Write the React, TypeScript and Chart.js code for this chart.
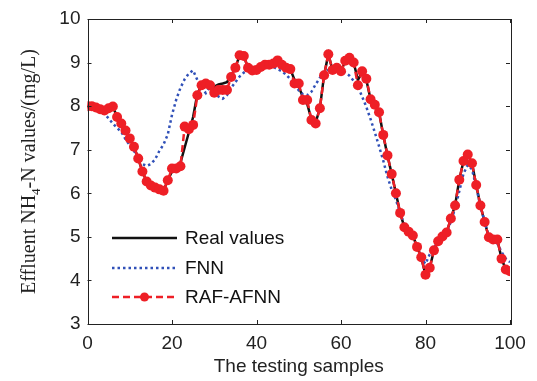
import React, { useEffect, useRef } from 'react';
import { Chart, registerables } from 'chart.js';
Chart.register(...registerables);

const samples = Array.from({ length: 101 }, (_, i) => i);

const realValues = [
  8.00, 8.00, 7.97, 7.93, 7.90, 7.95, 7.99, 7.75, 7.60, 7.44,
  7.26, 7.07, 6.80, 6.50, 6.27, 6.18, 6.13, 6.09, 6.06, 6.30,
  6.50, 6.60, 6.70, 7.05, 7.40, 7.75, 8.28, 8.48, 8.52, 8.48,
  8.45, 8.50, 8.52, 8.55, 8.70, 8.88, 9.17, 9.15, 8.88, 8.82,
  8.83, 8.90, 8.95, 8.95, 8.98, 9.05, 8.95, 8.88, 8.85, 8.60,
  8.45, 8.20, 8.05, 7.70, 7.62, 7.95, 8.71, 9.19, 8.83, 8.88,
  8.80, 9.04, 9.11, 9.00, 8.60, 8.78, 8.60, 8.16, 8.03, 7.86,
  7.34, 6.87, 6.44, 6.00, 5.55, 5.22, 5.12, 5.03, 4.77, 4.53,
  4.13, 4.29, 4.69, 4.90, 5.01, 5.10, 5.42, 5.72, 6.31, 6.74,
  6.89, 6.69, 6.19, 5.72, 5.34, 4.99, 4.94, 4.94, 4.50, 4.25,
  4.21,
];

const fnnValues = [
  8.00, 7.97, 7.92, 7.88, 7.82, 7.72, 7.60, 7.50, 7.41, 7.24,
  7.10, 6.97, 6.83, 6.67, 6.63, 6.67, 6.78, 6.97, 7.12, 7.35,
  7.80, 8.15, 8.42, 8.62, 8.75, 8.82, 8.60, 8.42, 8.30, 8.45,
  8.40, 8.22, 8.17, 8.25, 8.42, 8.55, 8.68, 8.77, 8.83, 8.87,
  8.88, 8.90, 8.92, 8.93, 8.90, 8.85, 8.80, 8.72, 8.62, 8.50,
  8.36, 8.27, 8.25, 8.33, 8.50, 8.65, 8.78, 8.83, 8.83, 8.82,
  8.79, 8.77, 8.70, 8.58, 8.45, 8.22, 7.98, 7.70, 7.40, 7.08,
  6.75, 6.38, 6.08, 5.85, 5.55, 5.28, 5.10, 4.95, 4.80, 4.50,
  4.38, 4.60, 4.75, 4.90, 5.00, 5.10, 5.35, 5.65, 6.05, 6.45,
  6.65, 6.55, 6.15, 5.70, 5.35, 5.00, 4.92, 4.85, 4.65, 4.50,
  4.42,
];

const rafValues = [
  8.00, 8.00, 7.97, 7.93, 7.90, 7.95, 7.99, 7.75, 7.60, 7.44,
  7.26, 7.07, 6.80, 6.50, 6.27, 6.18, 6.13, 6.09, 6.06, 6.30,
  6.57, 6.57, 6.62, 7.53, 7.47, 7.57, 8.25, 8.48, 8.52, 8.48,
  8.31, 8.37, 8.37, 8.37, 8.67, 8.88, 9.17, 9.15, 8.88, 8.82,
  8.83, 8.90, 8.95, 8.95, 8.98, 9.05, 8.95, 8.88, 8.85, 8.52,
  8.52, 8.14, 8.14, 7.68, 7.60, 7.95, 8.71, 9.19, 8.83, 8.88,
  8.80, 9.04, 9.11, 9.00, 8.48, 8.80, 8.63, 8.16, 8.03, 7.86,
  7.34, 6.87, 6.44, 6.00, 5.55, 5.22, 5.12, 5.03, 4.77, 4.53,
  4.13, 4.29, 4.69, 4.90, 5.01, 5.10, 5.42, 5.72, 6.31, 6.74,
  6.89, 6.69, 6.19, 5.72, 5.34, 4.99, 4.94, 4.94, 4.50, 4.25,
  4.21,
];

const seriesLabels = ['Real values', 'FNN', 'RAF-AFNN'];
const xTicks = [0, 20, 40, 60, 80, 100];
const yTicks = [3, 4, 5, 6, 7, 8, 9, 10];

const SANS = '"Liberation Sans", Arial, sans-serif';
const SERIF = '"Liberation Serif", "Times New Roman", serif';

const BLACK = '#111111';
const BLUE = '#3050b8';
const RED = '#ee1f26';

const framePlugin = {
  id: 'framePlugin',
  afterDraw(chart: any) {
    const { ctx, chartArea: a, scales } = chart;
    ctx.save();
    ctx.strokeStyle = '#222';
    ctx.lineWidth = 1;
    ctx.setLineDash([]);
    ctx.strokeRect(Math.round(a.left) + 0.5, Math.round(a.top) + 0.5, Math.round(a.right - a.left), Math.round(a.bottom - a.top));
    const tl = 4;
    ctx.beginPath();
    xTicks.forEach((v) => {
      const px = Math.round(scales.x.getPixelForValue(v)) + 0.5;
      ctx.moveTo(px, a.bottom);
      ctx.lineTo(px, a.bottom - tl);
      ctx.moveTo(px, a.top);
      ctx.lineTo(px, a.top + tl);
    });
    yTicks.forEach((v) => {
      const py = Math.round(scales.y.getPixelForValue(v)) + 0.5;
      ctx.moveTo(a.left, py);
      ctx.lineTo(a.left + tl, py);
      ctx.moveTo(a.right, py);
      ctx.lineTo(a.right - tl, py);
    });
    ctx.stroke();
    ctx.restore();
  },
};

const yTitlePlugin = {
  id: 'yTitlePlugin',
  afterDraw(chart: any) {
    const { ctx } = chart;
    const a = chart.chartArea;
    ctx.save();
    const main = '20px ' + SERIF;
    const sub = '13px ' + SERIF;
    const p1 = 'Effluent NH';
    const p2 = '4';
    const p3 = '-N values/(mg/L)';
    ctx.font = main;
    const w1 = ctx.measureText(p1).width;
    const w3 = ctx.measureText(p3).width;
    ctx.font = sub;
    const w2 = ctx.measureText(p2).width;
    const total = w1 + w2 + w3;
    ctx.translate(28, (a.top + a.bottom) / 2 + 0);
    ctx.rotate(-Math.PI / 2);
    ctx.fillStyle = '#222';
    ctx.textBaseline = 'alphabetic';
    ctx.textAlign = 'left';
    let x = -total / 2;
    const base = 7;
    ctx.font = main;
    ctx.fillText(p1, x, base);
    x += w1;
    ctx.font = sub;
    ctx.fillText(p2, x, base + 5);
    x += w2;
    ctx.font = main;
    ctx.fillText(p3, x, base);
    ctx.restore();
  },
};

const legendPlugin = {
  id: 'customLegend',
  afterDraw(chart: any) {
    const { ctx } = chart;
    const rows = [238, 268, 297];
    const x0 = 112;
    const x1 = 177;
    const tx = 185;
    const order = [0, 1, 2];
    ctx.save();
    order.forEach((di, i) => {
      const ds = chart.data.datasets[di];
      const y = rows[i];
      ctx.strokeStyle = ds.borderColor;
      ctx.lineWidth = ds.borderWidth;
      ctx.setLineDash(ds.borderDash || []);
      ctx.beginPath();
      ctx.moveTo(x0, y);
      ctx.lineTo(x1, y);
      ctx.stroke();
      ctx.setLineDash([]);
      if (ds.pointRadius && ds.pointRadius > 0) {
        ctx.fillStyle = ds.pointBackgroundColor;
        ctx.beginPath();
        ctx.arc((x0 + x1) / 2, y, ds.pointRadius - 0.5, 0, Math.PI * 2);
        ctx.fill();
      }
      ctx.fillStyle = '#111';
      ctx.font = '19px ' + SANS;
      ctx.textBaseline = 'middle';
      ctx.textAlign = 'left';
      ctx.fillText(ds.label, tx, y + 1);
    });
    ctx.restore();
  },
};

export default function App() {
  const canvasRef = useRef<HTMLCanvasElement | null>(null);

  useEffect(() => {
    document.body.style.margin = '0';
    const canvas = canvasRef.current;
    if (!canvas) return;
    const toPts = (vals: number[]) => vals.map((v, i) => ({ x: samples[i], y: v }));
    const chart = new Chart(canvas, {
      type: 'line',
      data: {
        datasets: [
          {
            label: seriesLabels[0],
            data: toPts(realValues),
            borderColor: BLACK,
            backgroundColor: BLACK,
            borderWidth: 2.5,
            pointRadius: 0,
            tension: 0,
            order: 2,
          },
          {
            label: seriesLabels[1],
            data: toPts(fnnValues),
            borderColor: BLUE,
            backgroundColor: BLUE,
            borderWidth: 2.5,
            borderDash: [2.5, 3],
            pointRadius: 0,
            tension: 0,
            order: 1,
          },
          {
            label: seriesLabels[2],
            data: toPts(rafValues),
            borderColor: RED,
            backgroundColor: RED,
            pointBackgroundColor: RED,
            pointBorderColor: RED,
            borderWidth: 2.5,
            borderDash: [7, 4],
            pointRadius: 5,
            pointBorderWidth: 0,
            tension: 0,
            order: 0,
          },
        ] as any,
      },
      options: {
        responsive: false,
        animation: false,
        devicePixelRatio: 1,
        layout: { padding: { top: 19, right: 27, left: 0, bottom: 0 } },
        plugins: {
          legend: { display: false },
          tooltip: { enabled: false },
          title: { display: false },
        },
        scales: {
          x: {
            type: 'linear',
            min: 0,
            max: 100,
            afterFit(scale: any) {
              scale.height = 57;
            },
            afterBuildTicks(scale: any) {
              scale.ticks = xTicks.map((v) => ({ value: v }));
            },
            grid: { display: false, drawTicks: false },
            border: { display: false },
            ticks: {
              color: '#222',
              font: { family: SANS, size: 19 },
              padding: 8,
              maxRotation: 0,
            },
            title: {
              display: true,
              text: 'The testing samples',
              color: '#222',
              font: { family: SANS, size: 19 },
              padding: { top: 0, bottom: 3 },
            },
          },
          y: {
            type: 'linear',
            min: 3,
            max: 10,
            afterFit(scale: any) {
              scale.width = 87.5;
            },
            afterBuildTicks(scale: any) {
              scale.ticks = yTicks.map((v) => ({ value: v }));
            },
            grid: { display: false, drawTicks: false },
            border: { display: false },
            ticks: {
              color: '#222',
              font: { family: SANS, size: 19 },
              padding: 7,
            },
          },
        },
      } as any,
      plugins: [framePlugin, yTitlePlugin, legendPlugin],
    });
    return () => chart.destroy();
  }, []);

  return (
    <div style={{ width: 537, height: 381, background: '#fff' }}>
      <canvas ref={canvasRef} width={537} height={381} style={{ display: 'block' }} />
    </div>
  );
}
